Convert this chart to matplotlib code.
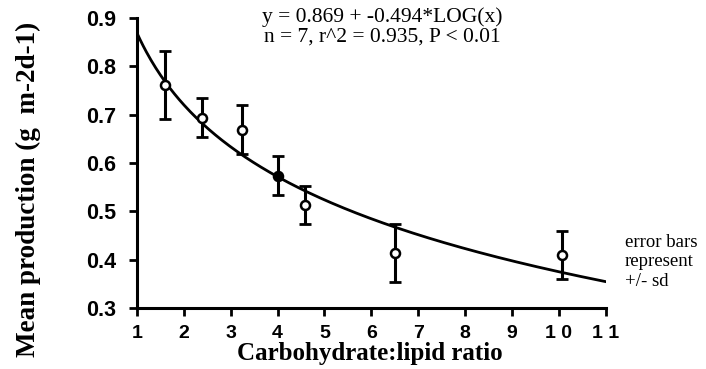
import numpy as np
import matplotlib
matplotlib.use("Agg")
import matplotlib.pyplot as plt

# Data
ratio = [1.59, 2.39, 3.25, 4.00, 4.59, 6.51, 10.07]
production = [0.761, 0.694, 0.669, 0.574, 0.513, 0.413, 0.410]
sd = [0.070, 0.040, 0.051, 0.041, 0.040, 0.060, 0.050]
filled = [False, False, False, True, False, False, False]
fit_a = 0.869
fit_b = -0.494
x_ticks = [1, 2, 3, 4, 5, 6, 7, 8, 9, 10, 11]
x_tick_labels = ["1", "2", "3", "4", "5", "6", "7", "8", "9", "1 0", "1 1"]
y_ticks = [0.3, 0.4, 0.5, 0.6, 0.7, 0.8, 0.9]
y_tick_labels = ["0.3", "0.4", "0.5", "0.6", "0.7", "0.8", "0.9"]

fig = plt.figure(figsize=(7.06, 3.69), dpi=100)
ax = fig.add_axes([0.194, 0.1653, 0.664, 0.786])

# fitted curve
xs = np.linspace(1, 11, 300)
ax.plot(xs, fit_a + fit_b * np.log10(xs), color="black", lw=2.0, zorder=2)

# error bars and points
ax.errorbar(ratio, production, yerr=sd, fmt="none", ecolor="black",
            elinewidth=2.2, capsize=4.5, capthick=2.0, zorder=3)
for x, y, f in zip(ratio, production, filled):
    ax.plot(x, y, "o", ms=6.5, mec="black", mew=1.8,
            mfc="black" if f else "white", zorder=4)

ax.set_xlim(1, 11)
ax.set_ylim(0.3, 0.9)
ax.set_xticks(x_ticks)
ax.set_xticklabels(x_tick_labels, fontfamily="Liberation Sans",
                   fontweight="bold", fontsize=14)
ax.set_yticks(y_ticks)
ax.set_yticklabels(y_tick_labels, fontfamily="Liberation Sans",
                   fontweight="bold", fontsize=15.5)
ax.tick_params(axis="both", direction="out", length=6, width=2, colors="black")
ax.tick_params(axis="x", pad=6)
ax.tick_params(axis="y", pad=9)
for s in ["top", "right"]:
    ax.spines[s].set_visible(False)
for s in ["left", "bottom"]:
    ax.spines[s].set_linewidth(2.2)
ax.patch.set_visible(False)

fig.text(0.524, 0.042, "Carbohydrate:lipid ratio", ha="center", va="center",
         fontfamily="Liberation Serif", fontweight="bold", fontsize=18)
fig.text(0.040, 0.487, "Mean production (g  m-2d-1)", ha="center", va="center",
         rotation=90, fontfamily="Liberation Serif", fontweight="bold",
         fontsize=19.5)

fig.text(0.541, 0.953, "y = 0.869 + -0.494*LOG(x)", ha="center", va="center",
         fontfamily="Liberation Serif", fontsize=15.5)
fig.text(0.541, 0.899, "n = 7, r^2 = 0.935, P < 0.01", ha="center", va="center",
         fontfamily="Liberation Serif", fontsize=15.5)
fig.text(0.885, 0.29, "error bars\nrepresent\n+/- sd", ha="left", va="center",
         fontfamily="Liberation Serif", fontsize=13.5, linespacing=1.2)

fig.savefig("out.png", dpi=100)
